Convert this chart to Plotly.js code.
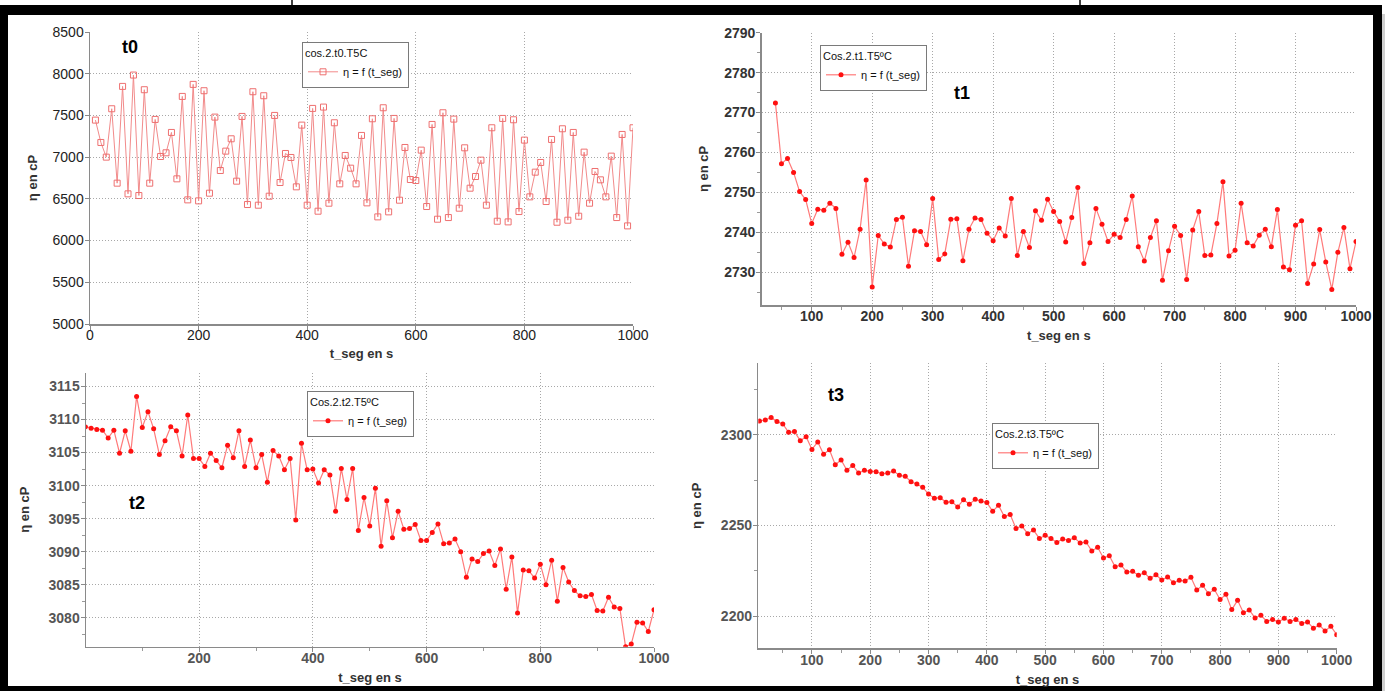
<!DOCTYPE html>
<html>
<head>
<meta charset="utf-8">
<script src="https://cdn.plot.ly/plotly-3.0.1.min.js"></script>
<style>
html,body{margin:0;padding:0;background:#fff;}
#chart{width:1385px;height:691px;}
</style>
</head>
<body>
<div id="chart"></div>
<script>
// ---------- DATA ----------
const tSeg = [10,20,30,40,50,60,70,80,90,100,110,120,130,140,150,160,170,180,190,200,
  210,220,230,240,250,260,270,280,290,300,310,320,330,340,350,360,370,380,390,400,
  410,420,430,440,450,460,470,480,490,500,510,520,530,540,550,560,570,580,590,600,
  610,620,630,640,650,660,670,680,690,700,710,720,730,740,750,760,770,780,790,800,
  810,820,830,840,850,860,870,880,890,900,910,920,930,940,950,960,970,980,990,1000];
const tSeg_t1 = tSeg.slice(3);          // 40 .. 1000
const tSeg_t2 = [0].concat(tSeg);       // 0 .. 1000

const eta_t0 = [7444,7176,7000,7580,6688,7848,6560,7984,6540,7808,
  6688,7452,7008,7052,7296,6740,7728,6488,7872,6476,
  7796,6568,7480,6840,7072,7220,6712,7488,6432,7784,
  6424,7736,6532,7500,6696,7044,6996,6644,7384,6424,
  7584,6352,7600,6448,7412,6680,7020,6868,6680,7260,
  6452,7460,6284,7592,6344,7464,6484,7116,6732,6720,
  7084,6408,7392,6256,7532,6276,7456,6388,7112,6628,
  6768,6964,6424,7352,6232,7464,6224,7448,6348,7204,
  6524,6820,6936,6468,7212,6220,7340,6244,7296,6292,
  7060,6448,6828,6728,6524,7012,6276,7272,6176,7352];

const eta_t1 = [2772.4,2757.2,2758.5,2755.0,2750.2,2748.2,2742.2,
  2745.8,2745.5,2747.3,2746.0,2734.5,2737.5,2733.7,2740.8,2753.1,2726.3,
  2739.2,2737.1,2736.3,2743.2,2743.8,2731.5,2740.4,2740.2,2736.9,2748.5,
  2733.2,2734.6,2743.3,2743.4,2732.9,2740.8,2743.6,2743.2,2739.8,2737.9,
  2741.1,2739.1,2748.5,2734.2,2740.2,2736.2,2745.4,2743.0,2748.3,2745.2,
  2742.7,2737.6,2743.7,2751.2,2732.2,2737.4,2746.0,2742.0,2737.7,2739.5,
  2738.7,2743.2,2749.1,2736.4,2732.8,2738.7,2742.9,2728.0,2735.4,2741.5,
  2739.2,2728.2,2740.6,2745.2,2734.2,2734.3,2742.2,2752.7,2734.1,2735.5,
  2747.3,2737.4,2736.6,2739.3,2740.8,2736.4,2745.7,2731.3,2730.6,2741.8,
  2742.9,2727.2,2732.1,2740.7,2732.6,2725.7,2735.0,2741.2,2730.9,2737.7];

const eta_t2 = [3108.9,3108.7,3108.5,3108.4,3107.2,3108.4,3104.9,3108.3,3105.2,3113.5,
  3108.8,3111.2,3108.6,3104.7,3106.8,3108.9,3108.3,3104.5,3110.7,3104.1,
  3104.1,3102.9,3104.9,3103.8,3102.7,3106.1,3104.2,3108.3,3102.9,3106.9,
  3102.7,3104.7,3100.5,3105.3,3104.5,3102.4,3104.1,3094.8,3106.4,3102.4,
  3102.5,3100.4,3102.4,3101.6,3096.1,3102.6,3097.9,3102.6,3093.2,3098.2,
  3093.9,3099.6,3090.8,3097.7,3092.1,3096.1,3093.4,3093.5,3094.1,3091.7,
  3091.7,3092.9,3094.2,3091.2,3091.3,3091.9,3090.0,3086.1,3088.9,3088.5,
  3089.7,3090.1,3087.9,3090.4,3084.3,3089.2,3080.7,3087.2,3087.1,3086.0,
  3088.1,3085.0,3088.7,3082.5,3087.6,3085.4,3084.1,3083.3,3083.2,3083.5,
  3081.1,3081.0,3083.1,3081.6,3081.4,3075.6,3076.0,3079.3,3079.2,3077.9,
  3081.2];

const eta_t3 = [2307.5,2308.1,2309.5,2307.2,2305.9,2301.3,2301.7,2296.7,2298.9,2291.9,
  2296.0,2289.2,2291.7,2283.5,2286.1,2280.4,2283.1,2278.9,2280.4,2279.8,
  2279.6,2278.5,2278.9,2280.0,2277.6,2277.1,2274.1,2272.8,2271.0,2267.3,
  2265.0,2265.3,2262.8,2263.1,2260.2,2264.2,2261.7,2264.4,2263.5,2262.6,
  2257.8,2261.1,2254.9,2256.0,2248.4,2249.7,2245.5,2247.5,2242.9,2244.6,
  2242.9,2240.7,2242.6,2241.8,2243.3,2240.4,2240.9,2236.0,2238.0,2232.1,
  2233.4,2227.3,2228.3,2224.4,2224.8,2222.6,2224.0,2220.9,2222.9,2220.0,
  2221.7,2218.5,2219.8,2219.4,2221.5,2214.5,2217.1,2212.5,2214.9,2209.2,
  2212.1,2203.7,2208.8,2202.0,2203.5,2199.1,2200.6,2197.2,2198.3,2196.9,
  2198.9,2197.2,2198.2,2196.1,2196.9,2193.4,2195.2,2191.9,2194.5,2189.9];

const legendTitles = ['cos.2.t0.T5C','Cos.2.t1.T5ºC','Cos.2.t2.T5ºC','Cos.2.t3.T5ºC'];
const seriesName = 'η = f (t_seg)';
const panelLabels = ['t0','t1','t2','t3'];
const xTitle = 't_seg en s';
const yTitle = 'η en cP';

// ---------- LAYOUT HELPERS ----------
const W = 1385, H = 691;
const px = v => v / W;
const py = v => 1 - v / H;
const FONT = 'Arial, "Liberation Sans", sans-serif';

function axis(d0, d1, range, dtick, opts) {
  const a = {
    domain: [d0, d1], range: range, dtick: dtick, tick0: 0,
    showgrid: true, gridcolor: '#a8a8a8', griddash: '1px,2px', gridwidth: 1,
    zeroline: false, showline: true, linecolor: '#8a8a8a', linewidth: 1.5,
    ticks: 'outside', ticklen: 4, tickcolor: '#8a8a8a',
    ticklabelstandoff: opts.lblOff,
    tickfont: {family: FONT, size: 14, color: opts.tickColor || '#333', weight: opts.tickWeight || 'normal'},
    title: {text: opts.title, standoff: opts.standoff,
            font: {family: FONT, size: 13, color: '#333', weight: 'bold'}},
    anchor: opts.anchor, fixedrange: true
  };
  if (opts.minor) a.minor = {dtick: opts.minor, ticks: 'outside', ticklen: 3, tickcolor: '#9a9a9a', showgrid: false};
  return a;
}

const lineCol = '#ff7a7a';
const markCol = '#ff1010';

const traces = [
  {x: tSeg, y: eta_t0, xaxis: 'x', yaxis: 'y', mode: 'lines+markers', name: seriesName, legend: 'legend',
   line: {color: '#f28b8b', width: 1}, marker: {symbol: 'square-open', size: 6, color: '#ee7070', line: {width: 1, color: '#ee7070'}}},
  {x: tSeg_t1, y: eta_t1, xaxis: 'x2', yaxis: 'y2', mode: 'lines+markers', name: seriesName, legend: 'legend2',
   line: {color: lineCol, width: 1.2}, marker: {symbol: 'circle', size: 5, color: markCol}},
  {x: tSeg_t2, y: eta_t2, xaxis: 'x3', yaxis: 'y3', mode: 'lines+markers', name: seriesName, legend: 'legend3',
   line: {color: lineCol, width: 1.2}, marker: {symbol: 'circle', size: 5, color: markCol}},
  {x: tSeg, y: eta_t3, xaxis: 'x4', yaxis: 'y4', mode: 'lines+markers', name: seriesName, legend: 'legend4',
   line: {color: lineCol, width: 1.2}, marker: {symbol: 'circle', size: 5, color: markCol}}
];

function legendAt(x, y, title) {
  return {x: px(x), y: py(y), xanchor: 'left', yanchor: 'top', bgcolor: '#fff',
          bordercolor: '#7a7a7a', borderwidth: 1, font: {family: FONT, size: 11, color: '#111'},
          title: {text: title, font: {family: FONT, size: 11, color: '#111'}},
          itemwidth: 30, tracegroupgap: 0};
}

const shapes = [];
function blk(x0, y0, x1, y1, col) {
  shapes.push({type: 'rect', xref: 'paper', yref: 'paper', x0: px(x0), x1: px(x1), y0: py(y1), y1: py(y0),
               fillcolor: col || '#000', line: {width: 0}, layer: 'above'});
}
blk(0, 5, 1382, 15);
blk(0, 5, 8, 691);
blk(1373, 5, 1382, 691);
blk(0, 686, 1382, 691);
blk(1382, 14, 1385, 691, '#cfcfcf');
shapes.push({type: 'line', xref: 'paper', yref: 'paper', x0: px(292), x1: px(292), y0: py(0), y1: py(5), line: {color: '#000', width: 1.5}});
shapes.push({type: 'line', xref: 'paper', yref: 'paper', x0: px(1080), x1: px(1080), y0: py(0), y1: py(5), line: {color: '#000', width: 1.5}});

const labelPos = [[130, 47], [962, 93], [137, 503], [836, 395]];
const annotations = panelLabels.map((t, i) => ({
  text: t, xref: 'paper', yref: 'paper', x: px(labelPos[i][0]), y: py(labelPos[i][1]),
  xanchor: 'center', yanchor: 'middle', showarrow: false,
  font: {family: FONT, size: 18, color: '#000', weight: 'bold'}
}));

const layout = {
  width: W, height: H, margin: {l: 0, r: 0, t: 0, b: 0},
  paper_bgcolor: '#fff', plot_bgcolor: '#fff', showlegend: true,
  font: {family: FONT},
  xaxis:  axis(px(90), px(633), [0, 1000], 200, {anchor: 'y', title: xTitle, standoff: 6, lblOff: -6, tickColor: '#222'}),
  yaxis:  axis(py(324), py(32), [5000, 8500], 500, {anchor: 'x', title: yTitle, standoff: 12, lblOff: -2, tickColor: '#222'}),
  xaxis2: axis(px(761.7), px(1356), [17.3, 1000], 100, {anchor: 'y2', title: xTitle, standoff: 7, lblOff: -6, tickColor: '#333', tickWeight: 'bold', minor: 50}),
  yaxis2: axis(py(305), py(32.7), [2721.8, 2790], 10, {anchor: 'x2', title: yTitle, standoff: 12, lblOff: -2, tickColor: '#333', tickWeight: 'bold', minor: 5}),
  xaxis3: axis(px(86), px(654), [1, 1000], 200, {anchor: 'y3', title: xTitle, standoff: 8, lblOff: -6, tickColor: '#555', tickWeight: 'bold', minor: 100}),
  yaxis3: axis(py(646.7), py(372.7), [3075.6, 3117.1], 5, {anchor: 'x3', title: yTitle, standoff: 16, lblOff: -2, tickColor: '#555', tickWeight: 'bold', minor: 2.5}),
  xaxis4: axis(px(758.3), px(1336.7), [8, 1000], 100, {anchor: 'y4', title: xTitle, standoff: 8, lblOff: -6, tickColor: '#555', tickWeight: 'bold', minor: 50}),
  yaxis4: axis(py(648.3), py(363.3), [2182.4, 2339.3], 50, {anchor: 'x4', title: yTitle, standoff: 16, lblOff: -2, tickColor: '#555', tickWeight: 'bold', minor: 25}),
  legend:  legendAt(302, 42, legendTitles[0]),
  legend2: legendAt(820, 45, legendTitles[1]),
  legend3: legendAt(307, 391, legendTitles[2]),
  legend4: legendAt(992, 423, legendTitles[3]),
  shapes: shapes,
  annotations: annotations
};

Plotly.newPlot('chart', traces, layout, {displayModeBar: false, staticPlot: true});
</script>
</body>
</html>
